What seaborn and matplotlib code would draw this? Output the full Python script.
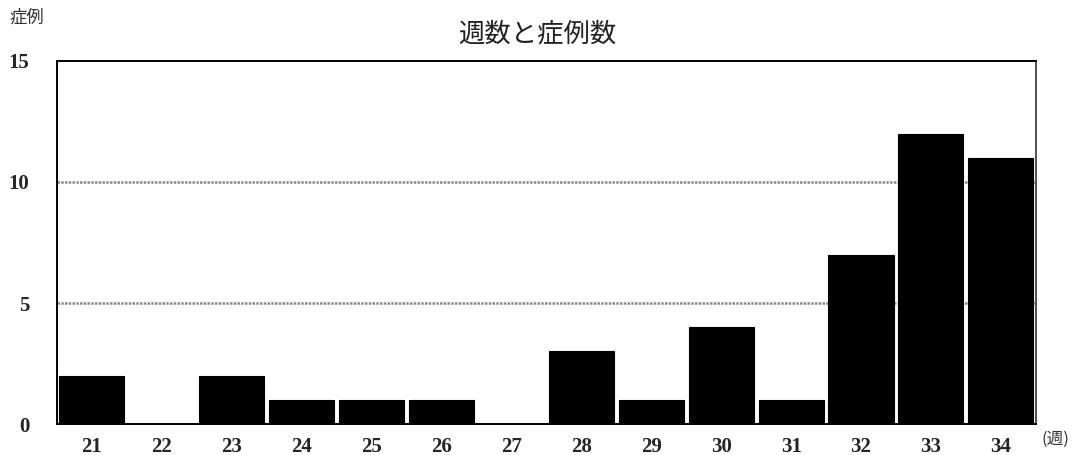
import pandas as pd
import matplotlib
matplotlib.use("Agg")
import matplotlib.pyplot as plt
import seaborn as sns

# data
weeks = ["21", "22", "23", "24", "25", "26", "27", "28", "29", "30", "31", "32", "33", "34"]
cases = [2, 0, 2, 1, 1, 1, 0, 3, 1, 4, 1, 7, 12, 11]
y_ticks = [0, 5, 10, 15]

df = pd.DataFrame({"week": weeks, "cases": cases})

sns.set_style("white")
plt.rcParams["font.family"] = ["Noto Sans CJK JP", "DejaVu Sans"]

fig = plt.figure(figsize=(10.72, 4.55), dpi=100)
ax = fig.add_axes([0.0532, 0.068, 0.913, 0.798])

sns.barplot(data=df, x="week", y="cases", color="black", saturation=1,
            width=0.93, edgecolor="black", linewidth=0.8, ax=ax, zorder=3)

ax.set_ylim(0, 15)
ax.set_xlim(-0.5, len(weeks) - 0.5)
ax.set_yticks(y_ticks)
ax.set_yticklabels([str(t) for t in y_ticks])

# dotted grid lines at 5 and 10
for g in [5, 10]:
    ax.axhline(g, color="#8a8a8a", linewidth=1.8, linestyle=(0, (1, 0.5)), zorder=1)

for side in ["left", "bottom", "top"]:
    ax.spines[side].set_color("black")
    ax.spines[side].set_linewidth(1.4)
ax.spines["right"].set_color("#333333")
ax.spines["right"].set_linewidth(1.2)

ax.tick_params(axis="y", length=6, width=1.4, color="black", direction="out", pad=14)
ax.tick_params(axis="x", length=4, width=1.0, color="black", direction="out", pad=5)
for lab in ax.get_xticklabels() + ax.get_yticklabels():
    lab.set_fontfamily("Liberation Serif")
    lab.set_fontweight("bold")
    lab.set_fontsize(15)

ax.set_xlabel("")
ax.set_ylabel("")

fig.text(0.501, 0.925, "週数と症例数", ha="center", va="center", fontsize=19, color="#222222")
fig.text(0.009, 0.962, "症例", ha="left", va="center", fontsize=12.5, color="#333333")
fig.text(0.998, 0.035, "(週)", ha="right", va="center", fontsize=12, color="#333333")

plt.savefig("out.png", dpi=100)
